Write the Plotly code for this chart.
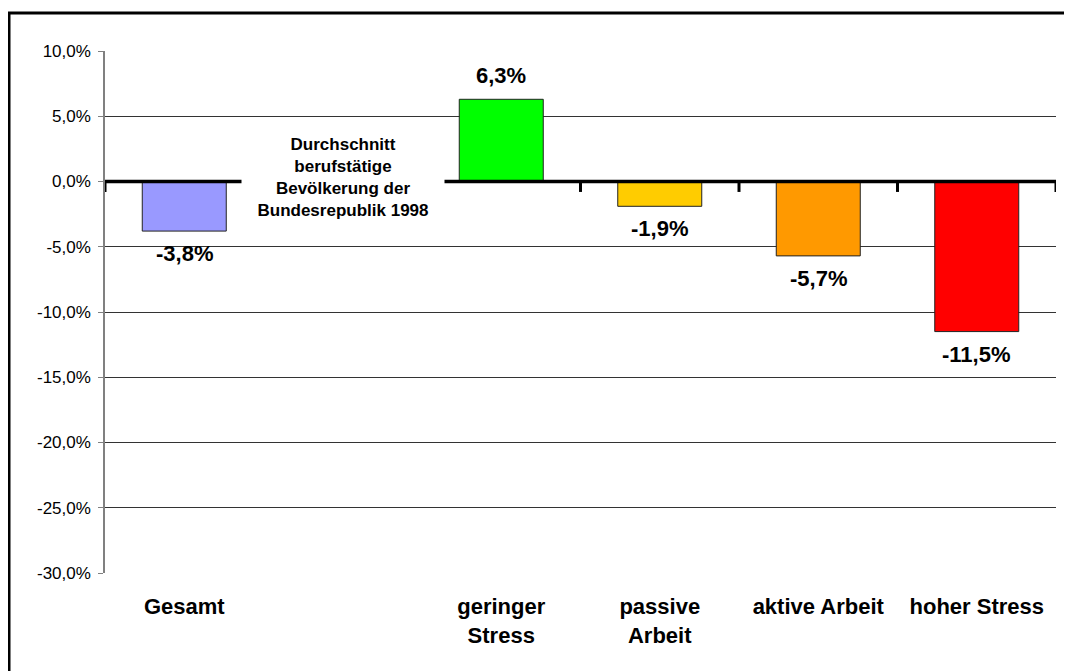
import plotly.graph_objects as go

categories = ["Gesamt", "", "geringer<br>Stress", "passive<br>Arbeit", "aktive Arbeit", "hoher Stress"]
values = [-3.8, None, 6.3, -1.9, -5.7, -11.5]
labels = ["-3,8%", "", "6,3%", "-1,9%", "-5,7%", "-11,5%"]
colors = ["#9999FF", "#FFFFFF", "#00FF00", "#FFCC00", "#FF9900", "#FF0000"]
y_ticks = [10, 5, 0, -5, -10, -15, -20, -25, -30]
y_ticktext = ["10,0%", "5,0%", "0,0%", "-5,0%", "-10,0%", "-15,0%", "-20,0%", "-25,0%", "-30,0%"]
note = "Durchschnitt<br>berufstätige<br>Bevölkerung der<br>Bundesrepublik 1998"

FONT = "Liberation Sans, Arial, sans-serif"
xs = list(range(len(categories)))

# page body has an 8px margin; figure is sized/offset accordingly
W, H = 1064, 663
L, R, T, B = 97, 16, 43, 98
PW, PH = W - L - R, H - T - B

fig = go.Figure()
fig.add_trace(go.Bar(
    x=xs, y=values, width=0.53,
    marker=dict(color=colors, line=dict(color="#222222", width=1)),
    hoverinfo="skip",
))

annotations = []
for x, v, t in zip(xs, values, labels):
    if v is None:
        continue
    annotations.append(dict(
        x=x, y=v, xref="x", yref="y", text="<b>" + t + "</b>", showarrow=False,
        font=dict(family=FONT, size=22, color="black"),
        yanchor="bottom" if v >= 0 else "top",
        yshift=9 if v >= 0 else -8,
    ))
annotations.append(dict(
    x=1, y=0.3, xref="x", yref="y", text="<b>" + note + "</b>",
    showarrow=False, font=dict(family=FONT, size=17, color="black"),
    bgcolor="white", width=190, borderpad=6, align="center",
    yanchor="middle",
))

shapes = []
# zero line ticks at category boundaries
for k in range(len(categories) + 1):
    shapes.append(dict(type="line", xref="x", yref="y", x0=k - 0.5, x1=k - 0.5,
                       y0=0, y1=-0.8, line=dict(color="black", width=3), layer="above"))
# zero line
shapes.append(dict(type="line", xref="paper", yref="y", x0=0, x1=1, y0=0, y1=0,
                   line=dict(color="black", width=3.5), layer="above"))
# outer frame
shapes.append(dict(type="rect", xref="paper", yref="paper",
                   x0=(1 - L) / PW, x1=(W + 20 - L) / PW,
                   y0=(PH + T - (H + 20)) / PH, y1=(PH + T - 5) / PH,
                   line=dict(color="black", width=3), layer="above"))

fig.update_layout(
    width=W, height=H,
    margin=dict(l=L, r=R, t=T, b=B),
    paper_bgcolor="white", plot_bgcolor="white",
    showlegend=False,
    separators=",.",
    font=dict(family=FONT, color="black"),
    shapes=shapes,
    annotations=annotations,
)
fig.update_xaxes(
    range=[-0.5, len(categories) - 0.5],
    tickvals=xs, ticktext=["<b>" + c + "</b>" if c else "" for c in categories],
    tickfont=dict(family=FONT, size=22, color="black"),
    ticks="", showgrid=False, zeroline=False, showline=False,
    ticklabelstandoff=18,
)
fig.update_yaxes(
    range=[-30, 10], tickvals=y_ticks, ticktext=y_ticktext,
    tickfont=dict(family=FONT, size=17, color="black"),
    showgrid=True, gridcolor="#333333", gridwidth=1,
    zeroline=False,
    showline=True, linecolor="#808080", linewidth=1.5,
    ticks="outside", ticklen=5, tickcolor="#808080",
    ticklabelstandoff=4,
)

fig.write_html("out.html")
